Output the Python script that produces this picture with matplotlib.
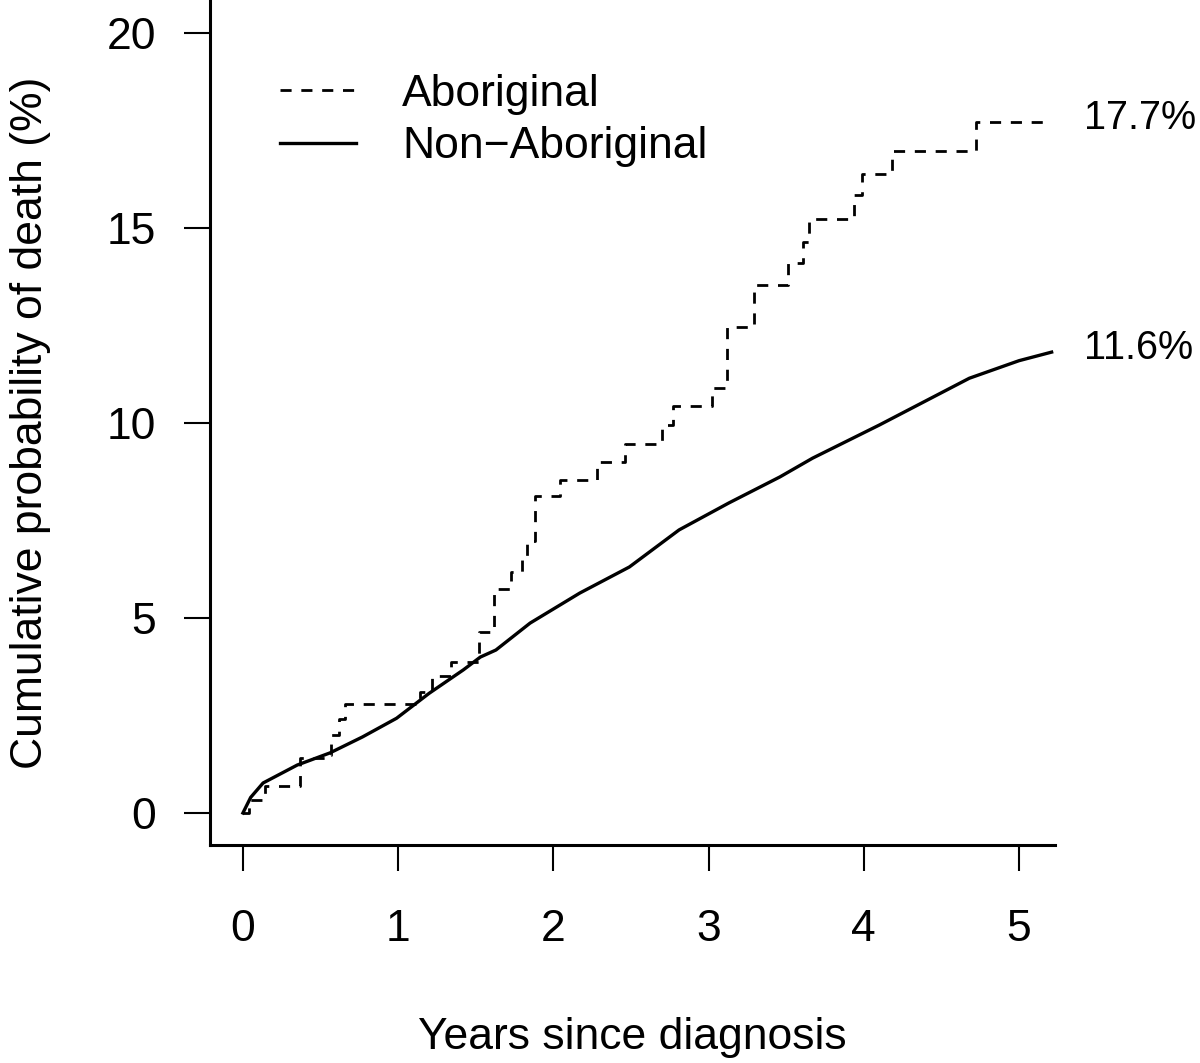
"""
Cumulative probability of death, Aboriginal vs Non-Aboriginal
"""

import matplotlib
matplotlib.use("Agg")
import matplotlib.pyplot as plt

# -----------------------------------------
# DATA
# -----------------------------------------

# Aboriginal: step function (time of event, value after the step)
ABOR_T = [0.0, 0.04, 0.14, 0.37, 0.54, 0.57, 0.62, 0.66, 1.14, 1.22, 1.34,
          1.52, 1.615, 1.73, 1.80, 1.83, 1.88, 2.04, 2.28, 2.46, 2.70, 2.77,
          3.02, 3.12, 3.29, 3.51, 3.61, 3.65, 3.94, 3.99, 4.18, 4.72, 5.21]
ABOR_Y = [0.0, 0.33, 0.69, 1.41, 1.50, 2.0, 2.4, 2.79, 3.1, 3.51, 3.87,
          4.64, 5.75, 6.18, 6.6, 6.97, 8.13, 8.54, 9.0, 9.46, 9.95, 10.43,
          10.9, 12.47, 13.54, 14.1, 14.64, 15.23, 15.85, 16.38, 16.97, 17.72, 17.72]

# Non-Aboriginal: smooth-looking curve
NON_T = [0.0, 0.05, 0.13, 0.35, 0.56, 0.77, 0.99, 1.2, 1.42, 1.53, 1.63, 1.85,
         2.17, 2.49, 2.81, 3.13, 3.46, 3.67, 4.1, 4.68, 5.0, 5.21]
NON_Y = [0.0, 0.4, 0.77, 1.23, 1.54, 1.95, 2.43, 3.07, 3.67, 4.0, 4.18, 4.87,
         5.64, 6.31, 7.26, 7.95, 8.62, 9.1, 9.95, 11.15, 11.6, 11.82]

ABOR_LABEL = "17.7%"
NON_LABEL = "11.6%"

X_TICKS = [0, 1, 2, 3, 4, 5]
Y_TICKS = [0, 5, 10, 15, 20]

# -----------------------------------------
# Plot
# -----------------------------------------

plt.rcParams["font.family"] = ["Liberation Sans", "DejaVu Sans"]

fig = plt.figure(figsize=(12, 10.63), dpi=100)
ax = fig.add_axes([0.175, 0.2051, 0.7042, 0.7949])

ax.step(ABOR_T, ABOR_Y, where="post", color="black", lw=2.0,
        ls=(0, (4, 3.5)), label="Aboriginal")
ax.plot(NON_T, NON_Y, color="black", lw=2.4, label="Non\u2212Aboriginal")

# end-of-curve labels
for t, y, lab in [(ABOR_T[-1], ABOR_Y[-1], ABOR_LABEL),
                  (NON_T[-1], NON_Y[-1], NON_LABEL)]:
    ax.annotate(lab, xy=(t, y), xytext=(23, 3),
                textcoords="offset points", va="center", ha="left",
                fontsize=28.5, annotation_clip=False)

ax.set_xlim(-0.212, 5.232)
ax.set_ylim(-0.82, 20.85)
ax.set_xticks(X_TICKS)
ax.set_yticks(Y_TICKS)

ax.spines["top"].set_visible(False)
ax.spines["right"].set_visible(False)
ax.spines["left"].set_linewidth(2.2)
ax.spines["bottom"].set_linewidth(2.2)
ax.tick_params(axis="both", direction="out", length=19, width=1.5,
               labelsize=32)
ax.tick_params(axis="x", pad=27)
ax.tick_params(axis="y", pad=20)

ax.set_xlabel("Years since diagnosis", fontsize=32, labelpad=48)
ax.set_ylabel("Cumulative probability of death (%)", fontsize=32, labelpad=40)

ax.legend(loc="upper left", bbox_to_anchor=(0.062, 0.934), frameon=False,
          fontsize=32, handlelength=1.7, handletextpad=1.05,
          labelspacing=0.26, borderaxespad=0)

fig.savefig("out.png", dpi=100)
